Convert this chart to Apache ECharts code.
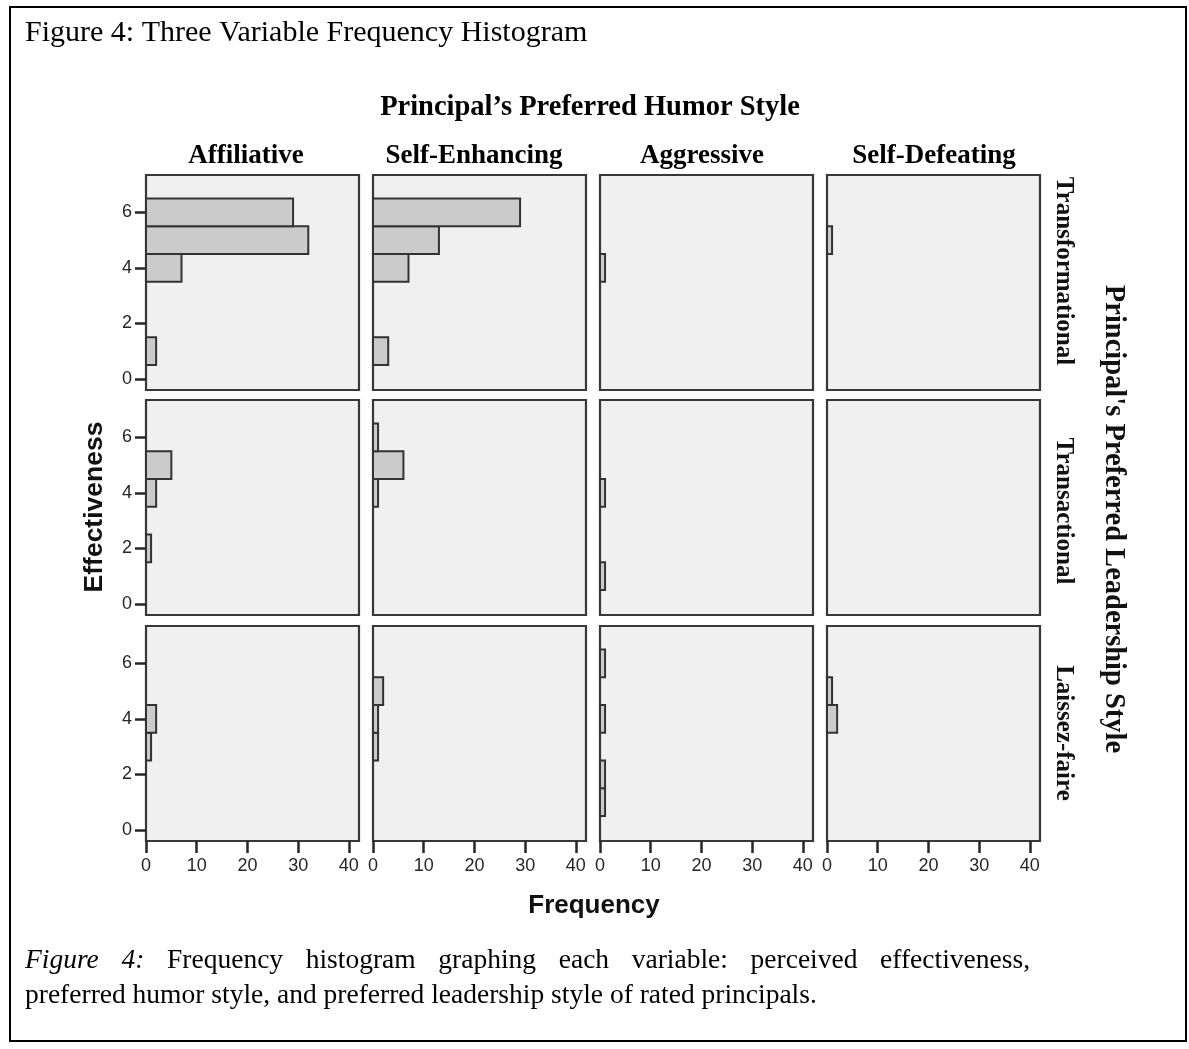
<!DOCTYPE html>
<html>
<head>
<meta charset="utf-8">
<style>
html,body{margin:0;padding:0;background:#fff;}
#c{width:1189px;height:1049px;}
</style>
</head>
<body>
<div id="c"></div>
<script src="https://cdn.jsdelivr.net/npm/echarts@6.0.0/dist/echarts.min.js"></script>
<script>
// ---- Data ----
const humorStyles = ['Affiliative', 'Self-Enhancing', 'Aggressive', 'Self-Defeating'];
const leadershipStyles = ['Transformational', 'Transactional', 'Laissez-faire'];
const effectivenessLevels = [1, 2, 3, 4, 5, 6];
const frequencyTicks = [0, 10, 20, 30, 40];
const effectivenessTicks = [0, 2, 4, 6];

// counts per effectiveness level (1..6)
const transformationalAffiliative   = [2, 0, 0, 7, 32, 29];
const transformationalSelfEnhancing = [3, 0, 0, 7, 13, 29];
const transformationalAggressive    = [0, 0, 0, 1, 0, 0];
const transformationalSelfDefeating = [0, 0, 0, 0, 1, 0];
const transactionalAffiliative      = [0, 1, 0, 2, 5, 0];
const transactionalSelfEnhancing    = [0, 0, 0, 1, 6, 1];
const transactionalAggressive       = [1, 0, 0, 1, 0, 0];
const transactionalSelfDefeating    = [0, 0, 0, 0, 0, 0];
const laissezFaireAffiliative       = [0, 0, 1, 2, 0, 0];
const laissezFaireSelfEnhancing     = [0, 0, 1, 1, 2, 0];
const laissezFaireAggressive        = [1, 1, 0, 1, 0, 1];
const laissezFaireSelfDefeating     = [0, 0, 0, 2, 1, 0];

const panelCounts = [
  [transformationalAffiliative, transformationalSelfEnhancing, transformationalAggressive, transformationalSelfDefeating],
  [transactionalAffiliative, transactionalSelfEnhancing, transactionalAggressive, transactionalSelfDefeating],
  [laissezFaireAffiliative, laissezFaireSelfEnhancing, laissezFaireAggressive, laissezFaireSelfDefeating]
];

const figureTitle = 'Figure 4: Three Variable Frequency Histogram';
const humorTitle = 'Principal\u2019s Preferred Humor Style';
const leadershipTitle = "Principal's Preferred Leadership Style";
const yTitle = 'Effectiveness';
const xTitle = 'Frequency';
const captionItalic = 'Figure 4:';
const captionLine1 = 'Frequency histogram graphing each variable: perceived effectiveness,';
const captionLine2 = 'preferred humor style, and preferred leadership style of rated principals.';

// ---- Layout ----
const colLefts = [146, 373, 600, 827];
const rowTops = [175, 400, 626];
const PW = 213, PH = 215;
const serif = '"Liberation Serif", "Times New Roman", serif';
const sans = '"Liberation Sans", Arial, sans-serif';
const ink = '#262626';

const grids = [], xAxes = [], yAxes = [], series = [];
let idx = 0;
for (let r = 0; r < 3; r++) {
  for (let c = 0; c < 4; c++) {
    grids.push({
      left: colLefts[c], top: rowTops[r], width: PW, height: PH,
      show: true, backgroundColor: '#f0f0f0', borderColor: '#383838', borderWidth: 2.2
    });
    xAxes.push({
      type: 'value', gridIndex: idx, min: 0, max: 42,
      axisLine: { show: false, onZero: false }, splitLine: { show: false },
      axisTick: { show: r === 2, customValues: frequencyTicks, length: 12, lineStyle: { color: ink, width: 2.5 } },
      axisLabel: { show: r === 2, customValues: frequencyTicks, fontSize: 18, color: ink, fontFamily: sans, margin: 16 }
    });
    yAxes.push({
      type: 'value', gridIndex: idx, min: -0.4, max: 7.35,
      axisLine: { show: false, onZero: false }, splitLine: { show: false },
      axisTick: { show: c === 0, customValues: effectivenessTicks, length: 11, lineStyle: { color: ink, width: 2.5 } },
      axisLabel: { show: c === 0, customValues: effectivenessTicks, fontSize: 18, color: ink, fontFamily: sans, margin: 14 }
    });
    const counts = panelCounts[r][c];
    const data = [];
    effectivenessLevels.forEach((lvl, k) => { if (counts[k] > 0) data.push([counts[k], lvl]); });
    series.push({
      type: 'custom', xAxisIndex: idx, yAxisIndex: idx, data: data, clip: false,
      renderItem: function (params, api) {
        const cnt = api.value(0), lvl = api.value(1);
        const a = api.coord([0, lvl + 0.5]);
        const b = api.coord([cnt, lvl - 0.5]);
        return {
          type: 'rect',
          shape: { x: a[0], y: a[1], width: b[0] - a[0], height: b[1] - a[1] },
          style: { fill: '#cbcbcb', stroke: '#333333', lineWidth: 2 }
        };
      }
    });
    idx++;
  }
}

const graphics = [
  { type: 'rect', silent: true, z: -10, shape: { x: 10, y: 7, width: 1176, height: 1034 },
    style: { fill: 'none', stroke: '#000', lineWidth: 2 } },
  { type: 'text', x: 25, y: 33, style: { text: figureTitle, fontSize: 30, fontFamily: serif, fill: '#000', align: 'left', verticalAlign: 'middle' } },
  { type: 'text', x: 590, y: 108, style: { text: humorTitle, fontSize: 28.5, fontWeight: 'bold', fontFamily: serif, fill: '#000', align: 'center', verticalAlign: 'middle' } },
  { type: 'text', x: 95, y: 507, rotation: Math.PI / 2, style: { text: yTitle, fontSize: 26.5, fontWeight: 'bold', fontFamily: sans, fill: '#111', align: 'center', verticalAlign: 'middle' } },
  { type: 'text', x: 594, y: 906, style: { text: xTitle, fontSize: 26, fontWeight: 'bold', fontFamily: sans, fill: '#111', align: 'center', verticalAlign: 'middle' } },
  { type: 'text', x: 1113, y: 519, rotation: -Math.PI / 2, style: { text: leadershipTitle, fontSize: 28.5, fontWeight: 'bold', fontFamily: serif, fill: '#111', align: 'center', verticalAlign: 'middle' } },
  { type: 'text', x: 25, y: 996, style: { text: captionLine2, fontSize: 27.5, fontFamily: serif, fill: '#000', align: 'left', verticalAlign: 'middle' } }
];

// caption line 1, justified between x=25 and x=1030
(function () {
  const ctx = document.createElement('canvas').getContext('2d');
  const size = 27.5;
  const words = captionItalic.split(' ').map(w => ({ w: w, it: true }))
    .concat(captionLine1.split(' ').map(w => ({ w: w, it: false })));
  let total = 0;
  words.forEach(o => {
    ctx.font = (o.it ? 'italic ' : '') + size + 'px "Liberation Serif"';
    o.width = ctx.measureText(o.w).width;
    total += o.width;
  });
  const left = 25, right = 1030;
  const gap = (right - left - total) / (words.length - 1);
  let x = left;
  words.forEach(o => {
    graphics.push({ type: 'text', x: x, y: 961, style: { text: o.w, fontSize: size, fontFamily: serif, fontStyle: o.it ? 'italic' : 'normal', fill: '#000', align: 'left', verticalAlign: 'middle' } });
    x += o.width + gap;
  });
})();

const colTitleX = [246, 474, 702, 934];
humorStyles.forEach((h, c) => {
  graphics.push({ type: 'text', x: colTitleX[c], y: 156, style: { text: h, fontSize: 27, fontWeight: 'bold', fontFamily: serif, fill: '#000', align: 'center', verticalAlign: 'middle' } });
});
const rowLabelY = [271, 511, 733];
leadershipStyles.forEach((l, r) => {
  graphics.push({ type: 'text', x: 1063, y: rowLabelY[r], rotation: -Math.PI / 2, style: { text: l, fontSize: 25, fontWeight: 'bold', fontFamily: serif, fill: '#111', align: 'center', verticalAlign: 'middle' } });
});

const chart = echarts.init(document.getElementById('c'), null, { renderer: 'canvas' });
chart.setOption({
  backgroundColor: '#ffffff',
  animation: false,
  grid: grids,
  xAxis: xAxes,
  yAxis: yAxes,
  series: series,
  graphic: graphics
});
</script>
</body>
</html>
